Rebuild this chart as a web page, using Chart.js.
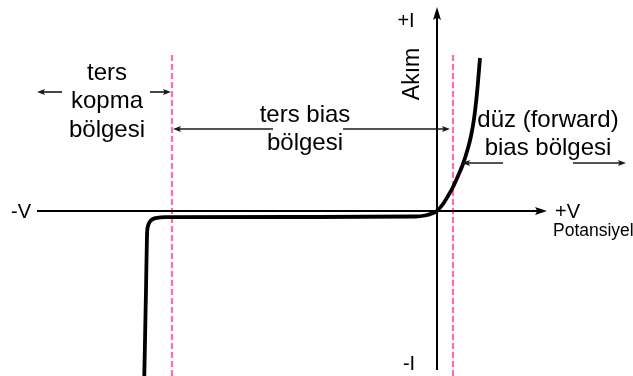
<!DOCTYPE html>
<html>
<head>
<meta charset="utf-8">
<script src="https://cdn.jsdelivr.net/npm/chart.js@4/dist/chart.umd.min.js"></script>
<style>
  html, body { margin: 0; padding: 0; background: #ffffff; }
  #wrap { width: 633px; height: 376px; position: relative; }
</style>
</head>
<body>
<div id="wrap"><canvas id="c"></canvas></div>
<script>
// ---- Data (arbitrary units: voltage on x, current on y, origin at the axes crossing) ----
const curveVoltage = [-292.7, -291, -290, -289, -287, -284, -280, -272, -137, -22, -12, -5, 0, 6, 11, 16, 21, 26, 31, 34, 37, 40, 43];
const curveCurrent = [-165, -79, -24, -15, -10.5, -8, -6.8, -6.2, -6, -5.5, -4.5, -2.5, 0, 7, 15, 24, 35, 47, 63, 75, 92, 118, 153];

const breakdownVoltage = -265;   // reverse breakdown boundary (dashed line)
const kneeVoltage = 16;          // forward knee boundary (dashed line)
const boundaryCurrentRange = [-165, 159];

const axisVoltageRange = [-400, 110];
const axisCurrentRange = [-159, 204];

const regionNames = [['ters', 'kopma', 'bölgesi'], ['ters bias', 'bölgesi'], ['düz (forward)', 'bias bölgesi']];
const axisNames = { current: 'Akım', voltage: 'Potansiyel', plusI: '+I', minusI: '-I', plusV: '+V', minusV: '-V' };

// ---- Build datasets ----
const curvePts = curveVoltage.map((v, k) => ({ x: v, y: curveCurrent[k] }));
const FONT = '"Liberation Sans", Arial, Helvetica, sans-serif';

const annotationPlugin = {
  id: 'diodeAnnotations',
  afterDatasetsDraw(chart) {
    const ctx = chart.ctx;
    const sx = chart.scales.x, sy = chart.scales.y;
    const px = v => sx.getPixelForValue(v);
    const py = i => sy.getPixelForValue(i);

    function head(x1, y1, x2, y2, len, hw, color) {
      const a = Math.atan2(y2 - y1, x2 - x1);
      ctx.save();
      ctx.fillStyle = color;
      ctx.translate(x2, y2);
      ctx.rotate(a);
      ctx.beginPath();
      ctx.moveTo(0, 0);
      ctx.lineTo(-len, -hw);
      ctx.lineTo(-len * 0.8, 0);
      ctx.lineTo(-len, hw);
      ctx.closePath();
      ctx.fill();
      ctx.restore();
    }
    function arrow(v1, i1, v2, i2, opts) {
      const o = Object.assign({ color: '#1a1a1a', width: 1.6, len: 8, hw: 3 }, opts || {});
      const x1 = px(v1), y1 = py(i1), x2 = px(v2), y2 = py(i2);
      ctx.save();
      ctx.strokeStyle = o.color;
      ctx.lineWidth = o.width;
      ctx.beginPath();
      ctx.moveTo(x1, y1);
      ctx.lineTo(x2 - Math.sign(x2 - x1) * o.len * 0.6, y2 - Math.sign(y2 - y1) * o.len * 0.6);
      ctx.stroke();
      ctx.restore();
      head(x1, y1, x2, y2, o.len, o.hw, o.color);
    }
    function text(str, v, i, size, align, rot) {
      ctx.save();
      ctx.fillStyle = '#000';
      ctx.font = size + 'px ' + FONT;
      ctx.textAlign = align || 'center';
      ctx.textBaseline = rot ? 'middle' : 'alphabetic';
      ctx.translate(px(v), py(i));
      if (rot) ctx.rotate(rot);
      ctx.fillText(str, 0, 0);
      ctx.restore();
    }

    // axes with arrowheads
    arrow(axisVoltageRange[0], 0, axisVoltageRange[1], 0, { color: '#000', width: 2, len: 12, hw: 4 });
    arrow(0, axisCurrentRange[0], 0, axisCurrentRange[1], { color: '#000', width: 2, len: 13, hw: 4 });

    // region arrows
    arrow(-375, 119, -400, 119);
    arrow(-287, 119, -266, 119);
    arrow(-164, 82, -264, 82);
    arrow(-94, 82, 13, 82);
    arrow(66, 48, 25, 48);
    arrow(136, 48, 189, 48);

    // region labels
    const s = 24;
    text(regionNames[0][0], -330, 131, s);
    text(regionNames[0][1], -330, 103, s);
    text(regionNames[0][2], -330, 74, s);
    text(regionNames[1][0], -132, 89, s);
    text(regionNames[1][1], -132, 61, s);
    text(regionNames[2][0], 111, 84, s);
    text(regionNames[2][1], 111, 56, s);

    // axis labels
    text(axisNames.current, -24, 137, 23, 'center', -Math.PI / 2);
    text(axisNames.plusI, -31, 184, 20);
    text(axisNames.minusI, -28, -159, 20);
    text(axisNames.minusV, -416, -7, 20);
    text(axisNames.plusV, 118, -7, 20, 'left');
    text(axisNames.voltage, 116, -25, 17.5, 'left');
  }
};

new Chart(document.getElementById('c'), {
  type: 'line',
  data: {
    datasets: [
      {
        label: 'boundary-breakdown',
        data: boundaryCurrentRange.map(i => ({ x: breakdownVoltage, y: i })),
        borderColor: '#ff6cb5',
        borderWidth: 2.2,
        borderDash: [6, 3],
        pointRadius: 0,
        order: 3
      },
      {
        label: 'boundary-knee',
        data: boundaryCurrentRange.map(i => ({ x: kneeVoltage, y: i })),
        borderColor: '#ff6cb5',
        borderWidth: 2.2,
        borderDash: [6, 3],
        pointRadius: 0,
        order: 3
      },
      {
        label: 'I-V',
        data: curvePts,
        borderColor: '#000',
        borderWidth: 3.8,
        pointRadius: 0,
        cubicInterpolationMode: 'monotone',
        borderCapStyle: 'butt',
        borderJoinStyle: 'round',
        order: 1
      }
    ]
  },
  options: {
    responsive: true,
    maintainAspectRatio: false,
    animation: false,
    layout: { padding: 0 },
    plugins: { legend: { display: false }, tooltip: { enabled: false } },
    scales: {
      x: { type: 'linear', min: -437, max: 196, display: false },
      y: { type: 'linear', min: -165, max: 211, display: false }
    }
  },
  plugins: [annotationPlugin]
});
</script>
</body>
</html>
